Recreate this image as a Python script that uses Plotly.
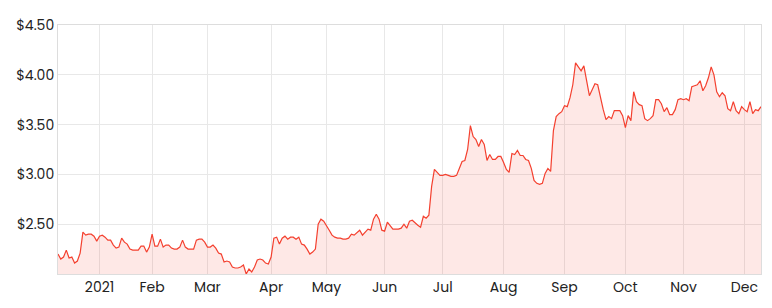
import pandas as pd
import plotly.graph_objects as go

# Trading days (ASX) from 9 Dec 2020 to 9 Dec 2021
holidays = ["2020-12-25", "2020-12-28", "2021-01-01", "2021-01-26",
            "2021-04-02", "2021-04-05", "2021-06-14"]
dates = [d for d in pd.bdate_range("2020-12-09", "2021-12-09")
         if d.strftime("%Y-%m-%d") not in holidays]
date_labels = [d.strftime("%Y-%m-%d") for d in dates]

prices_dec_mar = [
    2.20, 2.15, 2.17, 2.24, 2.16, 2.17, 2.11, 2.13, 2.21, 2.42,
    2.39, 2.40, 2.40, 2.38, 2.33, 2.38, 2.39, 2.37, 2.34, 2.34,
    2.29, 2.26, 2.27, 2.36, 2.32, 2.30, 2.25, 2.24, 2.24, 2.24,
    2.28, 2.28, 2.22, 2.27, 2.40, 2.28, 2.28, 2.35, 2.27, 2.29,
    2.29, 2.26, 2.25, 2.25, 2.27, 2.34, 2.27, 2.25, 2.25, 2.25,
    2.34, 2.35, 2.35, 2.32, 2.27, 2.27, 2.29, 2.26, 2.21, 2.20,
    2.12, 2.13, 2.12, 2.07, 2.06, 2.06, 2.07, 2.09, 2.00, 2.05,
    2.02, 2.07, 2.14,
]
prices_mar_aug = [
    2.15, 2.14, 2.11, 2.10, 2.17, 2.36, 2.37, 2.30, 2.36, 2.38,
    2.35, 2.37, 2.37, 2.35, 2.37, 2.30, 2.29, 2.25, 2.20, 2.22,
    2.25, 2.50, 2.55, 2.53, 2.49, 2.44, 2.39, 2.37, 2.36, 2.36,
    2.35, 2.35, 2.36, 2.40, 2.39, 2.42, 2.44, 2.39, 2.42, 2.45,
    2.44, 2.55, 2.60, 2.55, 2.44, 2.43, 2.52, 2.48, 2.45, 2.45,
    2.45, 2.46, 2.50, 2.46, 2.53, 2.54, 2.51, 2.49, 2.47, 2.58,
    2.56, 2.59, 2.88, 3.05, 3.02, 2.99, 2.99, 3.00, 2.99, 2.98,
    2.98, 2.99, 3.06, 3.13, 3.14, 3.25, 3.49, 3.38, 3.35, 3.28,
    3.35, 3.30, 3.14, 3.20, 3.15, 3.15, 3.18, 3.18, 3.12, 3.05,
]
prices_aug_dec = [
    3.02, 3.21, 3.20, 3.24, 3.19, 3.19, 3.15, 3.14, 3.06, 2.94,
    2.91, 2.90, 2.91, 3.01, 3.06, 3.03, 3.44, 3.58, 3.61, 3.63,
    3.69, 3.68, 3.77, 3.90, 4.12, 4.08, 4.04, 4.09, 3.94, 3.79,
    3.85, 3.91, 3.90, 3.77, 3.65, 3.55, 3.58, 3.56, 3.64, 3.64,
    3.64, 3.59, 3.47, 3.59, 3.54, 3.83, 3.73, 3.70, 3.69, 3.56,
    3.54, 3.56, 3.59, 3.75, 3.75, 3.71, 3.63, 3.67, 3.60, 3.60,
    3.65, 3.75, 3.76, 3.75, 3.76, 3.74, 3.88, 3.89, 3.90, 3.94,
    3.84, 3.89, 3.97, 4.08, 4.00, 3.83, 3.78, 3.82, 3.79, 3.66,
    3.64, 3.73, 3.64, 3.61, 3.68, 3.65, 3.63, 3.73, 3.61, 3.65,
    3.64, 3.68,
]
prices = prices_dec_mar + prices_mar_aug + prices_aug_dec
n = min(len(prices), len(date_labels))
x_vals = date_labels[:n]
prices = prices[:n]

# month ticks: first trading day of each month from Jan 2021
tick_vals, tick_text = [], []
seen = set()
for d in dates[:n]:
    key = (d.year, d.month)
    if d.year == 2021 and key not in seen:
        seen.add(key)
        tick_vals.append(d.strftime("%Y-%m-%d"))
        tick_text.append("2021" if d.month == 1 else d.strftime("%b"))

y_ticks = [2.5, 3.0, 3.5, 4.0, 4.5]
y_text = ["$2.50", "$3.00", "$3.50", "$4.00", "$4.50"]

fig = go.Figure(go.Scatter(
    x=x_vals, y=prices, mode="lines",
    line=dict(color="#f4402f", width=1.2),
    fill="tozeroy", fillcolor="rgba(244,64,47,0.12)",
    hoverinfo="skip",
))

grid = "#e8e8e8"
fig.update_layout(
    width=772, height=308,
    margin=dict(l=58, r=11, t=25, b=34),
    paper_bgcolor="white", plot_bgcolor="white",
    showlegend=False,
    font=dict(family="Poppins, Inter, sans-serif", size=14, color="#222"),
)
fig.update_xaxes(
    type="category", range=[0, n - 1],
    tickmode="array", tickvals=tick_vals, ticktext=tick_text,
    showgrid=True, gridcolor=grid, gridwidth=1,
    showline=True, linecolor="#dddddd", mirror=True,
    ticks="", tickfont=dict(size=14, color="#222"),
)
fig.update_yaxes(
    range=[2.0, 4.5],
    tickmode="array", tickvals=y_ticks, ticktext=y_text,
    showgrid=True, gridcolor=grid, gridwidth=1,
    showline=True, linecolor="#dddddd", mirror=True,
    ticks="", tickfont=dict(size=14, color="#222"),
    zeroline=False,
)

fig.write_html("out.html")
